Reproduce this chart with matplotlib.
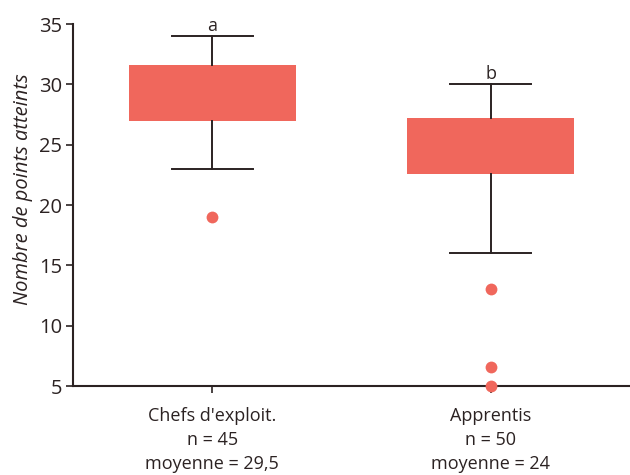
import matplotlib
matplotlib.use("Agg")
import matplotlib.pyplot as plt

# Scores per group (box summary statistics)
groups = ["Chefs d'exploit.", "Apprentis"]
n_obs = [45, 50]
means = ["29,5", "24"]
q1 = [27.0, 22.6]
q3 = [31.6, 27.2]
medians = [29.5, 24.5]
whisker_low = [23.0, 16.0]
whisker_high = [34.0, 30.0]
outliers = [[19.0], [13.0, 6.6, 5.0]]
letters = ["a", "b"]

plt.rcParams["font.family"] = ["Open Sans", "DejaVu Sans"]

box_color = "#f0675c"
ink = "#2b2222"

fig = plt.figure(figsize=(6.3, 4.75), dpi=100)
ax = fig.add_axes([73 / 630, 89 / 475, 557 / 630, 362 / 475])

stats = []
for i in range(len(groups)):
    stats.append(dict(q1=q1[i], q3=q3[i], med=medians[i],
                      whislo=whisker_low[i], whishi=whisker_high[i],
                      fliers=outliers[i]))

positions = [1, 2]
ax.bxp(stats, positions=positions, widths=0.6, capwidths=0.29,
       patch_artist=True, showfliers=True,
       boxprops=dict(facecolor=box_color, edgecolor="none", linewidth=0),
       medianprops=dict(linewidth=0),
       whiskerprops=dict(color=ink, linewidth=1.4),
       capprops=dict(color=ink, linewidth=1.4),
       flierprops=dict(marker="o", markerfacecolor=box_color,
                       markeredgecolor="none", markersize=8.5),
       zorder=3)

# Fliers drawn above the axis line
for line in ax.lines:
    line.set_clip_on(False)

for pos, top, letter in zip(positions, whisker_high, letters):
    ax.annotate(letter, (pos, top), xytext=(0, 1), textcoords="offset points",
                ha="center", va="bottom", fontsize=13, color=ink)

ax.set_xlim(0.5, 2.5)
ax.set_ylim(5, 35)
ax.set_yticks([5, 10, 15, 20, 25, 30, 35])
ax.set_xticks(positions)
ax.set_xticklabels([f"{g}\nn = {n}\nmoyenne = {m}"
                    for g, n, m in zip(groups, n_obs, means)],
                   linespacing=1.42)

for side in ("top", "right"):
    ax.spines[side].set_visible(False)
for side in ("left", "bottom"):
    ax.spines[side].set_color(ink)
    ax.spines[side].set_linewidth(1.5)

ax.tick_params(axis="y", direction="out", length=5, width=1.2, color=ink,
               labelsize=14.5, labelcolor=ink, pad=3)
ax.tick_params(axis="x", direction="out", length=5, width=1.2, color=ink,
               labelsize=13, labelcolor=ink, pad=10)

ax.set_ylabel("Nombre de points atteints", fontstyle="italic", fontsize=14.5,
              color=ink)
ax.yaxis.set_label_coords(-0.072, 0.545)

fig.savefig("out.png", dpi=100)
